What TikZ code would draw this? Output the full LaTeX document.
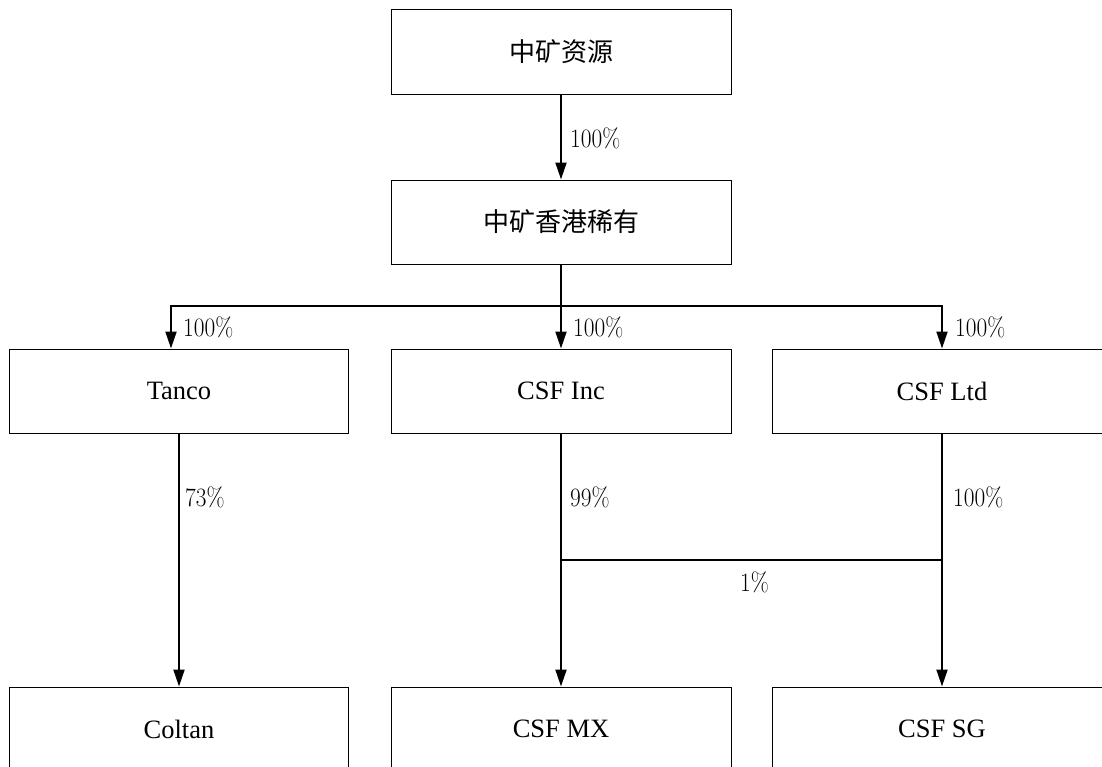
\documentclass[tikz,border=0pt]{standalone}
\usepackage{fontspec}
\setmainfont{Liberation Serif}
\newfontfamily\cjk{Noto Sans CJK SC}
\newfontfamily\pctfont{Latin Modern Roman}[FakeStretch=0.88]
\usetikzlibrary{arrows.meta}
\begin{document}
\begin{tikzpicture}[x=1bp,y=-1bp,
  box/.style={draw=black,line width=1bp,rectangle,minimum width=340bp,minimum height=84bp,inner sep=0pt,font=\fontsize{26.5bp}{30bp}\selectfont},
  cbox/.style={box,font=\cjk\fontsize{26bp}{30bp}\selectfont},
  arr/.style={line width=2bp,-{Triangle[length=17bp,width=11bp]}},
  ln/.style={line width=2bp},
  pct/.style={anchor=west,inner sep=0pt,font=\pctfont\fontsize{26.5bp}{30bp}\selectfont}]
\useasboundingbox (0,0) rectangle (1102,767);
\begin{scope}
\clip (0,0) rectangle (1102,767);
\node[cbox] (zk) at (561,52) {中矿资源};
\node[cbox] (hk) at (561,222) {中矿香港稀有};
\node[box,minimum width=338bp] (tanco) at (179,391) {Tanco};
\node[box] (inc) at (561,391) {CSF Inc};
\node[box] (ltd) at (942,391) {CSF Ltd};
\node[box,minimum width=338bp] (coltan) at (179,729) {Coltan};
\node[box] (mx) at (561,729) {CSF MX};
\node[box] (sg) at (942,729) {CSF SG};
\end{scope}
\coordinate (j) at (561,306);
\coordinate (tin) at ([xshift=-8bp]tanco.north);
\draw[arr] (zk.south) -- (hk.north);
\draw[ln] (hk.south) -- (j);
\draw[arr] (j) -- (inc.north);
\draw[arr] (j) -| (tin);
\draw[arr] (j) -| (ltd.north);
\draw[arr] (tanco.south) -- (coltan.north);
\draw[arr] (inc.south) -- (mx.north);
\draw[arr] (ltd.south) -- (sg.north);
\coordinate (h1) at (561,560);
\coordinate (h2) at (942,560);
\draw[ln] (h1) -- (h2);
\node[pct] (l1) at (570,138) {100\%};
\node[pct] (l2) at (183,327) {100\%};
\node[pct] (l3) at (573,327) {100\%};
\node[pct] (l4) at (955,327) {100\%};
\node[pct] (l5) at (185,497) {73\%};
\node[pct] (l6) at (570,497) {99\%};
\node[pct] (l7) at (953,497) {100\%};
\node[pct] (l8) at (740,582) {1\%};
\end{tikzpicture}
\end{document}
